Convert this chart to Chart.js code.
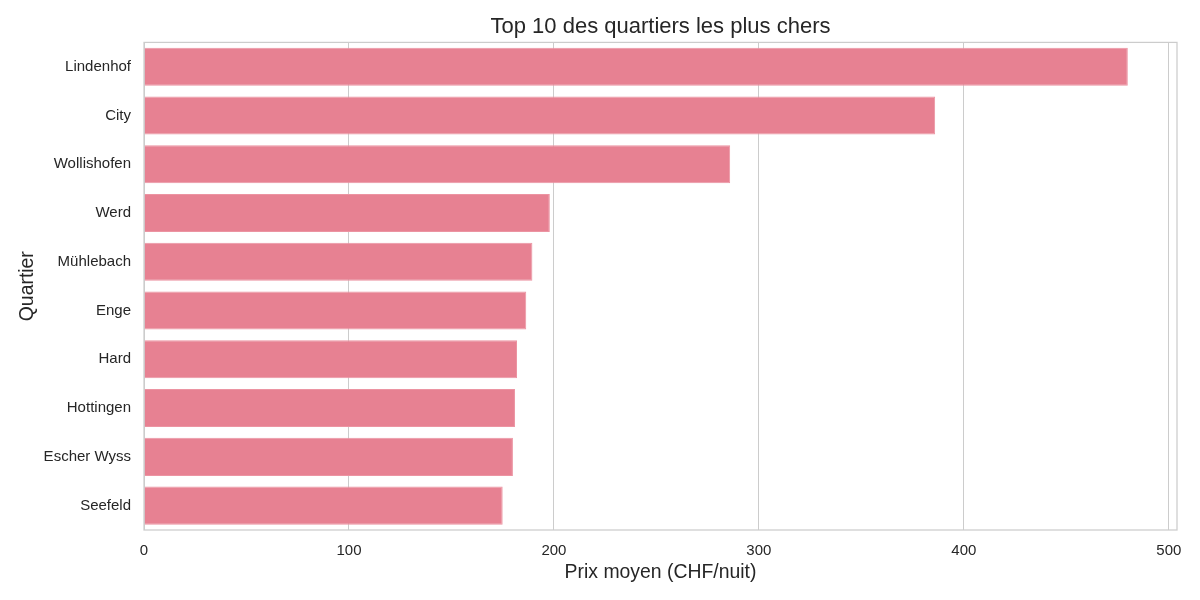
<!DOCTYPE html>
<html>
<head>
<meta charset="utf-8">
<title>Top 10 des quartiers les plus chers</title>
<script src="https://cdn.jsdelivr.net/npm/chart.js@4.4.1/dist/chart.umd.min.js"></script>
<style>
  html, body { margin: 0; padding: 0; background: #ffffff; }
  #chart { display: block; }
</style>
</head>
<body>
<canvas id="chart" width="1200" height="600"></canvas>
<script>
// values (CHF / nuit)
var quartiers = ['Lindenhof', 'City', 'Wollishofen', 'Werd', 'Mühlebach', 'Enge', 'Hard', 'Hottingen', 'Escher Wyss', 'Seefeld'];
var prixMoyen = [480, 386, 286, 198, 189.5, 186.5, 182, 181, 180, 175];
var xTickValues = [0, 100, 200, 300, 400, 500];
var xMin = 0;
var xMax = 504;

var textColor = '#262626';
var lineColor = '#cccccc';

Chart.defaults.font.family = '"Liberation Sans", Arial, sans-serif';
Chart.defaults.color = textColor;

// seaborn draws a box round the axes, chart.js only the left/bottom borders
var frame = {
  id: 'frame',
  afterDatasetsDraw: function(chart) {
    var a = chart.chartArea;
    var ctx = chart.ctx;
    ctx.save();
    ctx.strokeStyle = lineColor;
    ctx.lineWidth = 1.25;
    ctx.strokeRect(a.left, a.top, a.right - a.left, a.bottom - a.top);
    ctx.restore();
  }
};

new Chart(document.getElementById('chart'), {
  type: 'bar',
  data: {
    labels: quartiers,
    datasets: [{
      label: 'Prix moyen',
      data: prixMoyen,
      backgroundColor: 'rgb(231,129,146)',
      borderColor: 'rgb(236,148,162)',
      borderWidth: 1,
      barPercentage: 0.78,
      categoryPercentage: 1
    }]
  },
  options: {
    indexAxis: 'y',
    responsive: false,
    animation: false,
    devicePixelRatio: 1,
    layout: { padding: { left: 0, right: 23, top: 0, bottom: 0 } },
    plugins: {
      legend: { display: false },
      tooltip: { enabled: false },
      title: {
        display: true,
        fullSize: false,
        text: 'Top 10 des quartiers les plus chers',
        color: textColor,
        font: { size: 22, weight: 'normal' },
        padding: { top: 14, bottom: 2 }
      }
    },
    scales: {
      x: {
        min: xMin,
        max: xMax,
        grid: { color: lineColor, lineWidth: 1, drawTicks: false },
        border: { display: false },
        ticks: { padding: 12, color: textColor, font: { size: 15 } },
        afterBuildTicks: function(scale) {
          scale.ticks = xTickValues.map(function(v) { return { value: v }; });
        },
        title: {
          display: true,
          text: 'Prix moyen (CHF/nuit)',
          color: textColor,
          font: { size: 19.4 },
          padding: { top: 0, bottom: 16 }
        },
        afterFit: function(scale) { scale.height = 70; }
      },
      y: {
        grid: { display: false, drawTicks: false },
        border: { display: false },
        ticks: { padding: 13, color: textColor, font: { size: 15 } },
        title: {
          display: true,
          text: 'Quartier',
          color: textColor,
          font: { size: 19.4 },
          padding: { top: 16, bottom: 0 }
        },
        afterFit: function(scale) { scale.width = 144; }
      }
    }
  },
  plugins: [frame]
});
</script>
</body>
</html>
